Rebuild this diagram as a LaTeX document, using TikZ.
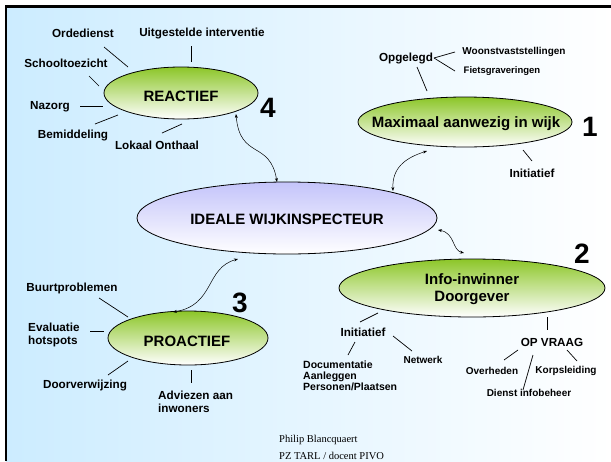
\documentclass[tikz,border=0pt]{standalone}
\usepackage{fontspec}
\setmainfont{Liberation Sans}
\newfontfamily\footfont{Liberation Serif}
\usetikzlibrary{shapes.geometric,arrows.meta}
\definecolor{bgblue}{RGB}{204,236,255}
\definecolor{limegreen}{RGB}{140,198,40}
\definecolor{lavender}{RGB}{196,196,250}
\tikzset{
 bubble/.style={ellipse, draw=black, line width=0.8pt, inner sep=0pt},
 greenbub/.style={bubble, top color=limegreen, bottom color=white},
 bluebub/.style={bubble, top color=lavender, bottom color=white},
 title/.style={font=\bfseries\fontsize{15}{17}\selectfont, inner sep=0pt, align=center},
 lbl/.style={font=\bfseries\fontsize{11.7}{13.5}\selectfont, inner sep=0pt},
 sml/.style={font=\bfseries\fontsize{10}{11}\selectfont, inner sep=0pt},
 num/.style={font=\bfseries\fontsize{28}{30}\selectfont, inner sep=0pt},
 spoke/.style={draw, line width=0.7pt},
 link/.style={line width=0.5pt, {Stealth[length=4pt,width=3pt]}-{Stealth[length=4pt,width=3pt]}},
 foot/.style={font=\footfont\fontsize{10.5}{12}\selectfont, inner sep=0pt, anchor=base west},
}
\begin{document}
\begin{tikzpicture}[x=1pt,y=-1pt]
\useasboundingbox (0,0) rectangle (611,461);
% background and frame
\fill[left color=bgblue, right color=white] (6,6) rectangle (611,461);
\draw[line width=2.5pt] (6.2,461) -- (6.2,6.4) -- (611,6.4);

% ---------- REACTIEF ----------
\node[greenbub, minimum width=154pt, minimum height=52pt] (reac) at (181,93) {};
\node[title] (reactxt) at (181,96) {REACTIEF};
\node[num] (n4) at (268,108) {4};
\node[lbl] (orde) at (83,33) {Ordedienst};
\node[lbl] (uitg) at (202,33) {Uitgestelde interventie};
\node[lbl] (scho) at (66,63) {Schooltoezicht};
\node[lbl] (nazo) at (50,107) {Nazorg};
\node[lbl] (bemi) at (73,135) {Bemiddeling};
\node[lbl] (loka) at (157,145) {Lokaal Onthaal};
\coordinate (o1) at (104,47); \coordinate (o2) at (128,67);
\coordinate (u1) at (191,46); \coordinate (u2) at (191,62);
\coordinate (s1) at (89,76);  \coordinate (s2) at (99,86);
\coordinate (z1) at (80,106); \coordinate (z2) at (103,106);
\coordinate (b1) at (95,124); \coordinate (b2) at (118,115);
\coordinate (l1) at (162,133); \coordinate (l2) at (182,124);
\draw[spoke] (o1) -- (o2);
\draw[spoke] (u1) -- (u2);
\draw[spoke] (s1) -- (s2);
\draw[spoke] (z1) -- (z2);
\draw[spoke] (b1) -- (b2);
\draw[spoke] (l1) -- (l2);

% ---------- MAXIMAAL ----------
\node[greenbub, minimum width=214pt, minimum height=50pt] (maxi) at (465,122) {};
\node[title] (maxitxt) at (466,124) {Maximaal aanwezig in wijk};
\node[num] (n1) at (590,127) {1};
\node[lbl] (opge) at (406,58) {Opgelegd};
\node[sml] (woon) at (514,52) {Woonstvaststellingen};
\node[sml,font=\bfseries\fontsize{9.5}{11}\selectfont] (fiet) at (502,71) {Fietsgraveringen};
\node[lbl] (init1) at (532,173) {Initiatief};
\coordinate (g0) at (434,58); \coordinate (g1) at (455,52);
\coordinate (g2) at (455,71);
\coordinate (g3) at (417,67); \coordinate (g4) at (427,91);
\coordinate (i1) at (523,150); \coordinate (i2) at (532,161);
\draw[spoke] (g0) -- (g1);
\draw[spoke] (g0) -- (g2);
\draw[spoke] (g3) -- (g4);
\draw[spoke] (i1) -- (i2);

% ---------- IDEALE ----------
\node[bluebub, minimum width=300pt, minimum height=72pt] (ideal) at (287,218) {};
\node[title] (idealtxt) at (287,219) {IDEALE WIJKINSPECTEUR};

% ---------- INFO ----------
\node[greenbub, minimum width=266pt, minimum height=58pt] (info) at (472,288) {};
\node[title] (infotxt) at (472,289) {Info-inwinner\\Doorgever};
\node[num] (n2) at (582,254) {2};
\node[lbl] (init2) at (363,332) {Initiatief};
\node[sml, font=\bfseries\fontsize{10.5}{11}\selectfont, align=left, anchor=north west] (docu) at (303,361) {Documentatie\\Aanleggen\\Personen/Plaatsen};
\node[sml] (netw) at (423,360) {Netwerk};
\node[lbl] (opvr) at (552,342) {OP VRAAG};
\node[sml] (over) at (492,371) {Overheden};
\node[sml] (korp) at (566,371) {Korpsleiding};
\node[sml] (dien) at (529,393) {Dienst infobeheer};
\coordinate (f1) at (360,322); \coordinate (f2) at (378,313);
\coordinate (f3) at (355,342); \coordinate (f4) at (348,355);
\coordinate (f5) at (393,336); \coordinate (f6) at (412,351);
\coordinate (v1) at (547,317); \coordinate (v2) at (547,330);
\coordinate (v3) at (518,350); \coordinate (v4) at (504,360);
\coordinate (v5) at (567,350); \coordinate (v6) at (577,361);
\coordinate (v7) at (533,355); \coordinate (v8) at (523,390);
\draw[spoke] (f1) -- (f2);
\draw[spoke] (f3) -- (f4);
\draw[spoke] (f5) -- (f6);
\draw[spoke] (v1) -- (v2);
\draw[spoke] (v3) -- (v4);
\draw[spoke] (v5) -- (v6);
\draw[spoke] (v7) -- (v8);

% ---------- PROACTIEF ----------
\node[greenbub, minimum width=160pt, minimum height=54pt] (proa) at (188,338) {};
\node[title] (proatxt) at (187,341) {PROACTIEF};
\node[num] (n3) at (240,303) {3};
\node[lbl] (buur) at (72,288) {Buurtproblemen};
\node[lbl, align=left, anchor=west] (eval) at (28,335) {Evaluatie\\hotspots};
\node[lbl] (door) at (85,385) {Doorverwijzing};
\node[lbl, align=left, anchor=west] (advi) at (158,402) {Adviezen aan\\inwoners};
\coordinate (p1) at (99,298); \coordinate (p2) at (128,317);
\coordinate (p3) at (90,331); \coordinate (p4) at (104,331);
\coordinate (p5) at (108,375); \coordinate (p6) at (128,361);
\coordinate (p7) at (191,370); \coordinate (p8) at (191,383);
\draw[spoke] (p1) -- (p2);
\draw[spoke] (p3) -- (p4);
\draw[spoke] (p5) -- (p6);
\draw[spoke] (p7) -- (p8);

% ---------- curvy links ----------
\coordinate (a1) at (236,114); \coordinate (a2) at (277,182);
\draw[link] (a1) .. controls (240,160) and (270,140) .. (a2);
\coordinate (c1) at (427,151); \coordinate (c2) at (393,191);
\draw[link] (c1) .. controls (405,158) and (392,168) .. (c2);
\coordinate (d1) at (438,230); \coordinate (d2) at (464,253);
\draw[link] (d1) .. controls (455,233) and (452,250) .. (d2);
\coordinate (e1) at (238,259); \coordinate (e2) at (173,312);
\draw[link] (e1) .. controls (205,268) and (215,305) .. (e2);

% ---------- footer ----------
\node[foot] (auth) at (279,442) {Philip Blancquaert};
\node[foot] (inst) at (279,459) {PZ TARL / docent PIVO};
\end{tikzpicture}
\end{document}
